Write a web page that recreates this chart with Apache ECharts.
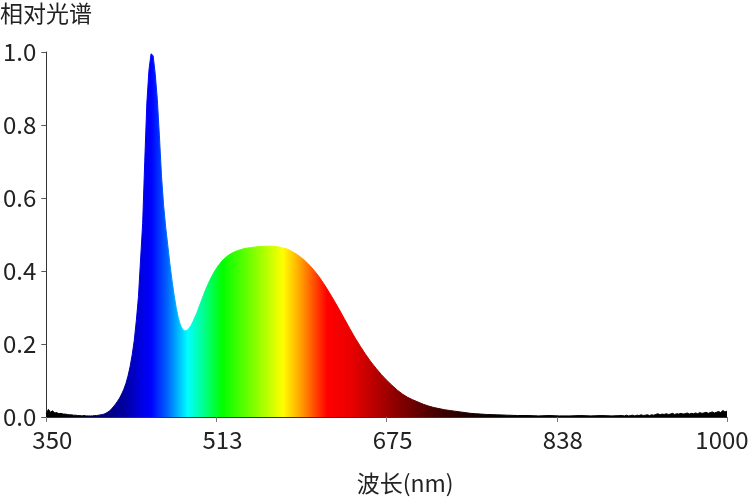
<!DOCTYPE html>
<html>
<head>
<meta charset="utf-8">
<script src="https://cdn.jsdelivr.net/npm/echarts@6/dist/echarts.min.js"></script>
<style>
html,body{margin:0;padding:0;background:#fff;}
#chart{width:752px;height:501px;}
</style>
</head>
<body>
<div id="chart"></div>
<script>
// ---- data ----
const wavelengths = [
  350,352,354,356,358,360,362,364,366,368,370,372,374,376,378,380,382,384,386,388,390,392,394,396,398,
  400,402,404,406,408,410,412,414,416,418,420,422,424,426,428,430,432,434,436,438,440,442,444,446,448,450,451,452,454,456,458,
  460,462,464,466,468,470,472,474,476,478,480,482,484,486,488,490,494,498,502,506,510,514,518,522,526,530,535,540,545,550,555,
  560,565,570,575,580,585,590,595,600,605,610,615,620,625,630,635,640,645,650,655,660,665,670,675,680,685,690,695,700,705,710,
  715,720,725,730,735,740,745,750,755,760,765,770,780,790,800,810,820,830,840,850,860,870,880,890,
  900,902,904,906,908,910,912,914,916,918,920,922,924,926,928,930,932,934,936,938,940,942,944,946,948,
  950,952,954,956,958,960,962,964,966,968,970,972,974,976,978,980,982,984,986,988,990,992,994,996,998,1000
];
const intensity = [
  0.010,0.021,0.013,0.017,0.011,0.012,0.009,0.010,0.008,0.008,0.007,0.006,0.006,0.005,0.005,0.004,0.004,0.003,0.004,0.003,0.003,0.003,0.003,0.004,0.004,
  0.005,0.006,0.007,0.009,0.012,0.016,0.021,0.028,0.035,0.043,0.052,0.063,0.076,0.092,0.112,0.138,0.170,0.210,0.265,0.330,0.430,0.530,0.700,0.860,0.950,0.995,1.000,0.990,0.940,0.870,0.770,
  0.660,0.580,0.520,0.470,0.420,0.375,0.335,0.300,0.272,0.252,0.241,0.236,0.237,0.242,0.250,0.261,0.287,0.318,0.348,0.374,0.396,0.414,0.428,0.439,0.447,0.453,0.458,0.462,0.464,0.466,0.467,
  0.468,0.468,0.467,0.464,0.460,0.453,0.444,0.433,0.420,0.404,0.386,0.365,0.342,0.318,0.293,0.267,0.241,0.216,0.193,0.171,0.151,0.133,0.116,0.101,0.087,0.074,0.063,0.054,0.047,0.041,0.035,
  0.030,0.026,0.023,0.020,0.018,0.016,0.014,0.012,0.010,0.009,0.008,0.007,0.006,0.005,0.004,0.004,0.003,0.004,0.003,0.003,0.004,0.003,0.004,0.003,
  0.004,0.003,0.005,0.003,0.004,0.005,0.003,0.005,0.004,0.006,0.004,0.005,0.006,0.004,0.006,0.005,0.007,0.009,0.006,0.008,0.007,0.009,0.007,0.008,0.010,
  0.007,0.009,0.008,0.010,0.008,0.009,0.011,0.008,0.010,0.009,0.011,0.009,0.012,0.010,0.011,0.013,0.010,0.012,0.014,0.011,0.013,0.015,0.012,0.018,0.014,0.016
];
const xTickLabels = ['350', '513', '675', '838', '1000'];
const yTickLabels = ['0.0', '0.2', '0.4', '0.6', '0.8', '1.0'];
const yTitle = '相对光谱';
const xTitle = '波长(nm)';

// ---- spectrum colour gradient (wavelength -> colour) ----
const spectrumStops = [
  [350, '#000000'], [385, '#000010'], [405, '#00007a'], [425, '#0000a0'], [440, '#0000e0'],
  [450, '#0000ff'], [465, '#0060ff'], [485, '#00ffff'], [500, '#00ff90'], [518, '#00ff00'],
  [548, '#80ff00'], [576, '#ffff00'], [593, '#ffa000'], [618, '#ff0000'], [640, '#ec0000'],
  [660, '#c00000'], [690, '#800000'], [720, '#480000'], [750, '#200000'], [785, '#000000'], [1000, '#000000']
];

const X0 = 350, X1 = 1000;
const seriesData = wavelengths.map((w, i) => [w - X0, intensity[i]]);
const grad = () => new echarts.graphic.LinearGradient(0, 0, 1, 0,
  spectrumStops.map(s => ({ offset: (s[0] - X0) / (X1 - X0), color: s[1] })));

const FONT = '"Noto Sans CJK SC", "Noto Sans", sans-serif';
const chart = echarts.init(document.getElementById('chart'), null, { renderer: 'canvas' });
chart.setOption({
  animation: false,
  backgroundColor: '#ffffff',
  title: {
    text: yTitle, left: 0, top: 2, padding: 0,
    textStyle: { fontFamily: FONT, fontSize: 23, fontWeight: 'normal', color: '#222' }
  },
  grid: { left: 46, right: 25, top: 52, bottom: 84, containLabel: false },
  xAxis: {
    type: 'value', min: 0, max: X1 - X0, interval: (X1 - X0) / 4,
    name: xTitle, nameLocation: 'middle', nameGap: 55,
    nameTextStyle: { fontFamily: FONT, fontSize: 23, color: '#222', padding: [0, 0, 0, 37] },
    axisLine: { show: true, lineStyle: { color: '#333', width: 1 } },
    axisTick: { show: true, inside: false, length: 5, lineStyle: { color: '#777' } },
    axisLabel: {
      fontFamily: FONT, fontSize: 24, color: '#222', margin: 11,
      padding: [0, 0, 0, 12],
      formatter: (v) => {
        const i = Math.round(v / ((X1 - X0) / 4));
        return i === xTickLabels.length - 1 ? '{last|' + xTickLabels[i] + '}' : xTickLabels[i];
      },
      rich: { last: { fontFamily: FONT, fontSize: 24, color: '#222', padding: [0, 22, 0, 0] } }
    },
    splitLine: { show: false }
  },
  yAxis: {
    type: 'value', min: 0, max: 1, interval: 0.2,
    axisLine: { show: true, lineStyle: { color: '#333', width: 1 } },
    axisTick: { show: true, inside: false, length: 5, lineStyle: { color: '#555' } },
    axisLabel: {
      fontFamily: FONT, fontSize: 24, color: '#222', margin: 10,
      formatter: (v) => yTickLabels[Math.round(v / 0.2)]
    },
    splitLine: { show: false }
  },
  series: [{
    type: 'line',
    data: seriesData,
    showSymbol: false,
    smooth: false,
    lineStyle: { width: 1, color: grad() },
    areaStyle: { color: grad(), opacity: 1 },
    z: 1
  }]
});
</script>
</body>
</html>
